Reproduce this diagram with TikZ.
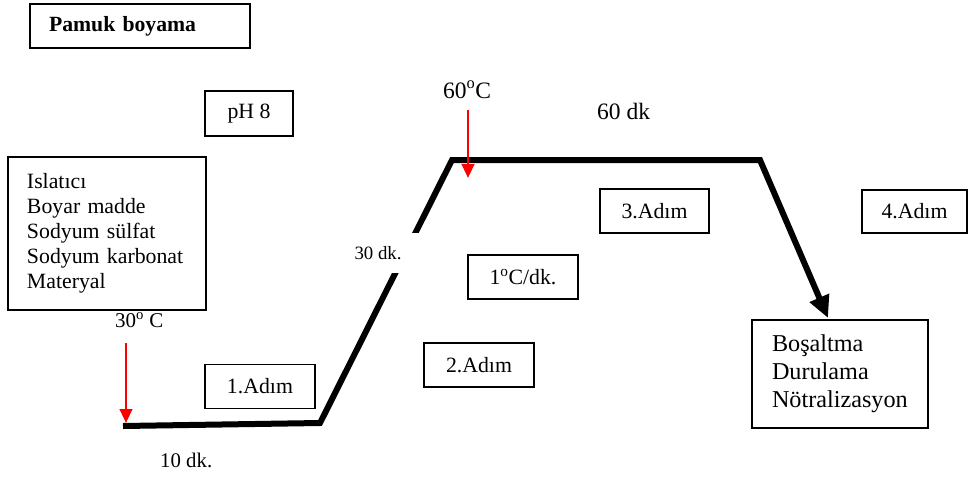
\documentclass[tikz,border=0pt]{standalone}
\usepackage{fontspec}
\setmainfont{Liberation Serif}
\usetikzlibrary{arrows.meta}
\begin{document}
\begin{tikzpicture}[x=1pt,y=-1pt,
  box/.style={draw=black, line width=1.4pt, inner sep=0pt, align=center, font=\fontsize{21.8}{25}\selectfont},
  lbl/.style={inner sep=0pt, anchor=base west},
  redarrow/.style={draw=red, line width=2.6pt, -{Triangle[length=14pt,width=12.5pt]}},
  curve/.style={line width=6pt, line join=miter, -{Triangle[length=22pt,width=20pt]}}]
\useasboundingbox (0,0) rectangle (969,477);

% boxes
\node[box, font=\fontsize{21.7}{25}\selectfont\bfseries, text width=182pt, inner xsep=19pt, align=left, minimum height=44pt] (title) at (140,26) {Pamuk boyama};
\node[box, minimum width=88pt, minimum height=45pt] (ph) at (249,113.5) {pH 8};
\node[box, text width=160pt, inner xsep=19pt, align=left, minimum height=153pt] (mat) at (107,233.5)
  {Islatıcı\\Boyar madde\\Sodyum sülfat\\Sodyum karbonat\\Materyal};
\node[box, minimum width=110pt, minimum height=44pt] (s1) at (260,386.5) {1.Adım};
\node[box, minimum width=110pt, minimum height=44pt] (s2) at (479,365) {2.Adım};
\node[box, minimum width=110pt, minimum height=44pt] (rate) at (523,277) {1\textsuperscript{o}C/dk.};
\node[box, minimum width=109pt, minimum height=44pt] (s3) at (654.5,211) {3.Adım};
\node[box, minimum width=105pt, minimum height=43pt] (s4) at (914.5,211.5) {4.Adım};
\node[box, font=\fontsize{24.2}{28}\selectfont, text width=136pt, inner xsep=20pt, align=left, minimum height=108pt] (out) at (840,374)
  {Boşaltma\\Durulama\\Nötralizasyon};

% free labels
\node[lbl, font=\fontsize{21}{24}\selectfont] (t30) at (115,327) {30\textsuperscript{o} C};
\node[lbl, font=\fontsize{20.8}{24}\selectfont] (t10) at (160,467) {10 dk.};
\node[lbl, font=\fontsize{23.5}{26}\selectfont] (t60) at (443,98) {60\textsuperscript{o}C};
\node[lbl, font=\fontsize{23.5}{26}\selectfont] (t60dk) at (597,119) {60 dk};

% temperature profile
\coordinate (p0) at (123,426);
\coordinate (p1) at (320,423);
\coordinate (p2) at (452,160);
\coordinate (p3) at (760,160);
\coordinate (p4) at (828,318);
\draw[curve] (p0) -- (p1) -- (p2) -- (p3) -- (p4);

% ramp label (white background breaks the line)
\node[fill=white, inner sep=0pt, minimum width=84pt, minimum height=40pt, font=\fontsize{18.8}{20}\selectfont] (ramp) at (378,253) {30 dk.};

% red arrows
\coordinate (r1s) at (126,343);
\coordinate (r1e) at (126,423);
\draw[redarrow] (r1s) -- (r1e);
\coordinate (r2s) at (468,110);
\coordinate (r2e) at (468,178);
\draw[redarrow] (r2s) -- (r2e);
\end{tikzpicture}
\end{document}
